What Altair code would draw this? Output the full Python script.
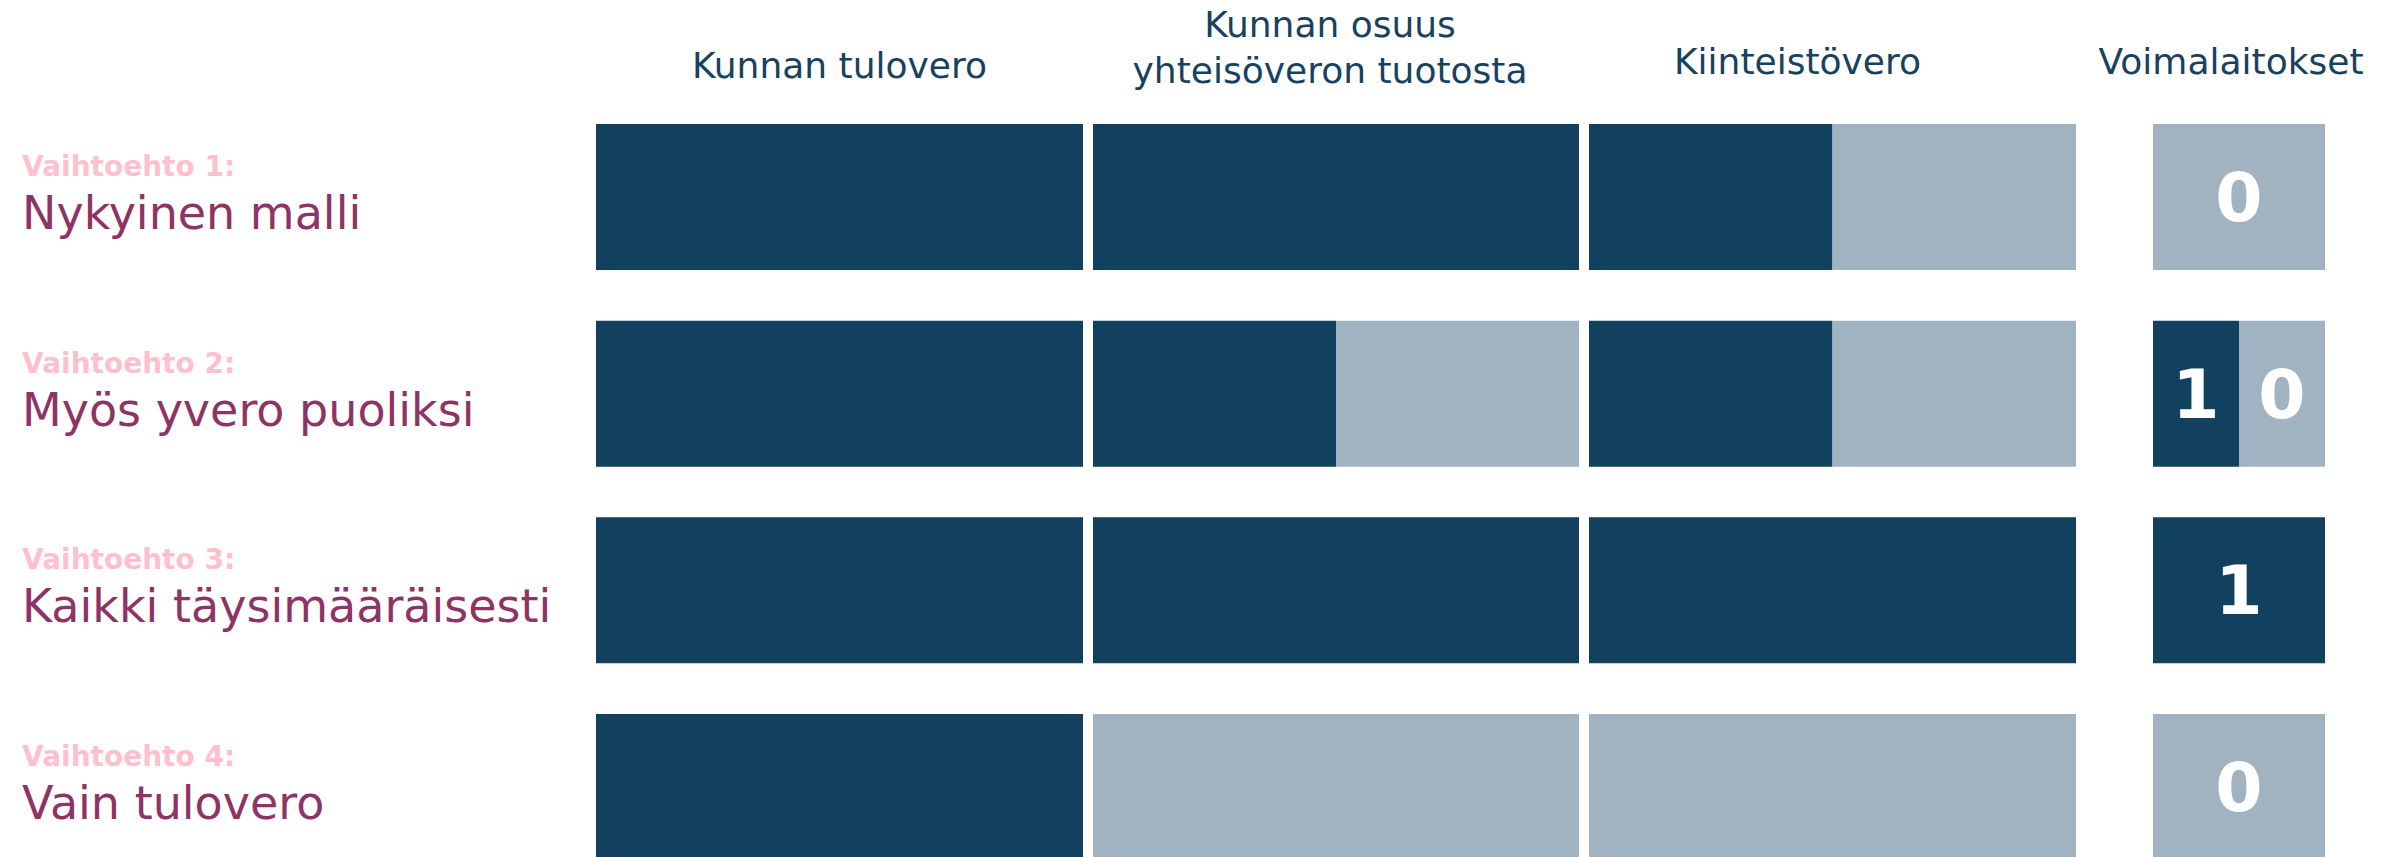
import altair as alt
import pandas as pd

# ---- data -------------------------------------------------------------
options = ["Vaihtoehto 1:", "Vaihtoehto 2:", "Vaihtoehto 3:", "Vaihtoehto 4:"]
option_names = ["Nykyinen malli", "Myös yvero puoliksi", "Kaikki täysimääräisesti", "Vain tulovero"]
headers = ["Kunnan tulovero", "Kunnan osuus\nyhteisöveron tuotosta", "Kiinteistövero", "Voimalaitokset"]

# share of each tax that stays with the municipality (dark part), per option
tulovero = [1.0, 1.0, 1.0, 1.0]
yhteisovero = [1.0, 0.5, 1.0, 0.0]
kiinteistovero = [0.5, 0.5, 1.0, 0.0]
voimalaitokset = [0.0, 0.5, 1.0, 0.0]
part_labels = ["1", "0"]  # dark part, light part

DARK = "#12415f"
LIGHT = "#a1b3c1"
HEAD = "#17425f"
PLUM = "#8e3366"
PINK = "#ffc0cb"
FONT = "DejaVu Sans"


def long_table(shares):
    rows = []
    for opt, s in zip(options, shares):
        rows.append({"option": opt, "part": "dark", "share": s, "ord": 0, "label": part_labels[0]})
        rows.append({"option": opt, "part": "light", "share": 1 - s, "ord": 1, "label": part_labels[1]})
    return pd.DataFrame(rows)


H = 736
yscale = alt.Scale(domain=options, paddingInner=0.2576, paddingOuter=0)
xscale = alt.Scale(domain=[0, 1], padding=0, nice=False, zero=False)


def panel(shares, header, width, header_dx, header_y, numbers=False, row_labels=False):
    base = (
        alt.Chart(long_table(shares))
        .transform_filter("datum.share > 0")
        .transform_stack(stack="share", groupby=["option"], as_=["x0", "x1"],
                         sort=[alt.SortField("ord", order="ascending")])
    )
    y = alt.Y("option:N", sort=options, scale=yscale, axis=None)
    bars = base.mark_bar().encode(
        x=alt.X("x0:Q", scale=xscale, axis=None),
        x2="x1:Q",
        y=y,
        color=alt.Color("part:N", scale=alt.Scale(domain=["dark", "light"], range=[DARK, LIGHT]), legend=None),
    )
    head = alt.Chart(pd.DataFrame({"h": [header]})).mark_text(
        align="center", baseline="alphabetic", lineBreak="\n", lineHeight=46,
        font=FONT, fontSize=36, color=HEAD, dx=header_dx,
    ).encode(x=alt.value(width / 2), y=alt.value(header_y), text="h:N")
    layers = [bars, head]
    if numbers:
        nums = base.transform_calculate(mid="(datum.x0 + datum.x1) / 2").mark_text(
            font=FONT, fontWeight="bold", fontSize=68, color="white", baseline="middle", dy=4,
        ).encode(x=alt.X("mid:Q", scale=xscale, axis=None), y=y, text="label:N")
        layers.append(nums)
    if row_labels:
        lab = pd.DataFrame({"option": options, "name": option_names})
        small = alt.Chart(lab).mark_text(
            align="left", baseline="alphabetic", font=FONT, fontWeight="bold",
            fontSize=28, color=PINK, dy=-21,
        ).encode(x=alt.value(-574), y=y, text="option:N")
        big = alt.Chart(lab).mark_text(
            align="left", baseline="alphabetic", font=FONT, fontSize=46, color=PLUM, dy=32,
        ).encode(x=alt.value(-574), y=y, text="name:N")
        layers += [small, big]
    return alt.layer(*layers).properties(width=width, height=H)


c1 = panel(tulovero, headers[0], 487, 0, -46, row_labels=True)
c2 = panel(yhteisovero, headers[1], 486, -6, -87)
c3 = panel(kiinteistovero, headers[2], 487, -35, -50)
c4 = panel(voimalaitokset, headers[3], 172, -8, -50, numbers=True)

# empty gap column between the tax columns and the power-plant column
gap = alt.Chart(pd.DataFrame({"v": [0]})).mark_point(opacity=0, size=0).encode(
    x=alt.value(0), y=alt.value(0)
).properties(width=57, height=H)

chart = (
    alt.hconcat(c1, c2, c3, gap, c4, spacing=10, bounds="flush")
    .properties(padding={"left": 14, "top": 0, "right": 0, "bottom": 0})
    .configure_view(strokeWidth=0)
)

chart.save("out.html", embed_options={"renderer": "svg", "actions": False})
